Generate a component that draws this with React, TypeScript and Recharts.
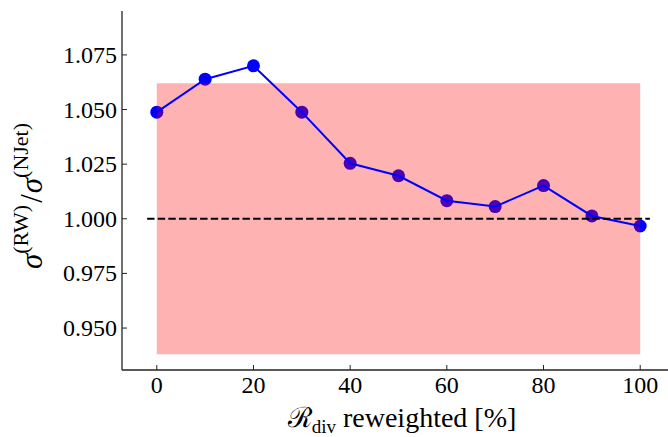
import { ComposedChart, Line, Scatter, XAxis, YAxis, ReferenceArea, ReferenceLine } from 'recharts'

// fraction of events reweighted [%]
const reweightedPct = [0, 10, 20, 30, 40, 50, 60, 70, 80, 90, 100]
// sigma(RW) / sigma(NJet)
const xsecRatio = [1.0488, 1.0639, 1.07, 1.0488, 1.0254, 1.0197, 1.0083, 1.0056, 1.0152, 1.0013, 0.9967]

const xTicks = [0, 20, 40, 60, 80, 100]
const yTicks = [0.95, 0.975, 1.0, 1.025, 1.05, 1.075]

// uncertainty band and reference line
const bandX = [0, 100]
const bandY = [0.938, 1.062]
const unityY = 1.0
const unityX = [-2, 102]

const data = reweightedPct.map((x, i) => ({ x, ratio: xsecRatio[i] }))

const FONT = 'Liberation Serif'
const SPINE = '#222'

const YTick = ({ x, y, payload }: any) => (
  <g>
    <line x1={x} x2={x + 5} y1={y} y2={y} stroke={SPINE} strokeWidth={1} />
    <text x={x - 5} y={y + 8} textAnchor="end" fontSize={24} fontFamily={FONT} fill="#000">
      {payload.value.toFixed(3)}
    </text>
  </g>
)

const XTick = ({ x, y, payload }: any) => (
  <g>
    <line x1={x} x2={x} y1={y} y2={y - 5} stroke={SPINE} strokeWidth={1} />
    <text x={x} y={y + 23} textAnchor="middle" fontSize={24} fontFamily={FONT} fill="#000">
      {payload.value}
    </text>
  </g>
)

const TopTick = ({ x, y }: any) => (
  <line x1={x} x2={x} y1={y} y2={y + 5} stroke={SPINE} strokeWidth={1} />
)

const Dot = ({ cx, cy }: any) => <circle cx={cx} cy={cy} r={6.5} fill="#0000ff" />

export default function App() {
  return (
    <div style={{ position: 'absolute', left: 0, top: 0, width: 668, height: 437, overflow: 'hidden', background: '#fff' }}>
      <ComposedChart width={676} height={437} data={data} margin={{ top: 11, right: 1, bottom: 0, left: 0 }}>
        <XAxis
          type="number"
          dataKey="x"
          domain={[-7.2, 107.2]}
          ticks={xTicks}
          allowDataOverflow
          height={67}
          tickSize={0}
          tickMargin={0}
          tickLine={false}
          tick={<XTick />}
          axisLine={{ stroke: SPINE, strokeWidth: 1.3 }}
        />
        <XAxis
          xAxisId="top"
          orientation="top"
          type="number"
          dataKey="x"
          domain={[-7.2, 107.2]}
          ticks={xTicks}
          allowDataOverflow
          height={0}
          tickSize={0}
          tickMargin={0}
          tickLine={false}
          tick={<TopTick />}
          axisLine={{ stroke: SPINE, strokeWidth: 1.3 }}
        />
        <YAxis
          type="number"
          domain={[0.9308, 1.0951]}
          ticks={yTicks}
          allowDataOverflow
          width={122}
          tickSize={0}
          tickMargin={0}
          tickLine={false}
          tick={<YTick />}
          axisLine={{ stroke: SPINE, strokeWidth: 1.3 }}
        />
        <Scatter dataKey="ratio" isAnimationActive={false} shape={<Dot />} zIndex={50} />
        <ReferenceArea
          x1={bandX[0]}
          x2={bandX[1]}
          y1={bandY[0]}
          y2={bandY[1]}
          fill="#ff0000"
          fillOpacity={0.3}
          stroke="none"
          zIndex={150}
        />
        <Line
          dataKey="ratio"
          stroke="#0000ff"
          strokeWidth={2}
          dot={false}
          activeDot={false}
          isAnimationActive={false}
          zIndex={400}
        />
        <ReferenceLine
          segment={[{ x: unityX[0], y: unityY }, { x: unityX[1], y: unityY }]}
          stroke="#000"
          strokeWidth={2}
          strokeDasharray="7.4 3.2"
          zIndex={450}
        />
      </ComposedChart>
      <svg width={668} height={437} style={{ position: 'absolute', left: 0, top: 0, pointerEvents: 'none' }}>
        <g transform="translate(42,196) rotate(-90)">
          <text x={0} y={0} textAnchor="middle" fontFamily={FONT} fontSize={31} fill="#000">
            <tspan fontStyle="italic">σ</tspan>
            <tspan fontSize={22} dy={-14}>(RW)</tspan>
            <tspan dy={14} dx={2}>/</tspan>
            <tspan fontStyle="italic" dx={1}>σ</tspan>
            <tspan fontSize={22} dy={-14}>(NJet)</tspan>
          </text>
        </g>
        <text x={402} y={427} textAnchor="middle" fontFamily={FONT} fontSize={28} fill="#000">
          <tspan>ℛ</tspan>
          <tspan fontSize={19} dy={6}>div</tspan>
          <tspan dy={-6}> reweighted [%]</tspan>
        </text>
      </svg>
    </div>
  )
}
